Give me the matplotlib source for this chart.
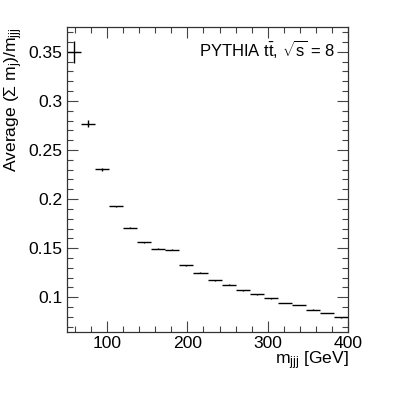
import numpy as np
import matplotlib
matplotlib.use("Agg")
import matplotlib.pyplot as plt
from matplotlib.ticker import MultipleLocator, FuncFormatter

plt.rcParams['font.family'] = ['Liberation Sans', 'DejaVu Sans']
plt.rcParams['mathtext.fontset'] = 'custom'
plt.rcParams['mathtext.rm'] = 'Liberation Sans'
plt.rcParams['mathtext.it'] = 'Liberation Sans'
plt.rcParams['mathtext.bf'] = 'Liberation Sans:bold'

# Data
bin_edges = np.linspace(50, 400, 21)
avg_ratio = [0.350, 0.277, 0.2305, 0.1926, 0.1707, 0.156, 0.1497, 0.1484,
             0.1328, 0.125, 0.1175, 0.1129, 0.1071, 0.103, 0.099, 0.0942,
             0.0922, 0.0875, 0.0841, 0.0797]
avg_err = [0.011, 0.004, 0.0015, 0.0008, 0.0006, 0.0005, 0.0005, 0.0005,
           0.0004, 0.0004, 0.0004, 0.0004, 0.0004, 0.0004, 0.0004, 0.0004,
           0.0004, 0.0004, 0.0004, 0.0004]
x_label = "m$_{jjj}$ [GeV]"
y_label = "Average ($\\Sigma$ m$_{j}$)/m$_{jjj}$"
annotation = "PYTHIA $t\\bar{t}$, $\\sqrt{s}$ = 8"

centers = 0.5 * (bin_edges[:-1] + bin_edges[1:])
halfw = 0.5 * np.diff(bin_edges)

fig = plt.figure(figsize=(4.15, 3.95), dpi=100)
ax = fig.add_axes([0.1607, 0.1603, 0.6786, 0.7706])

ax.errorbar(centers, avg_ratio, xerr=halfw, yerr=avg_err, fmt='none',
            ecolor='black', elinewidth=1.0, capsize=0)

ax.set_xlim(50, 400)
ax.set_ylim(0.065, 0.375)

ax.xaxis.set_major_locator(MultipleLocator(100))
ax.xaxis.set_minor_locator(MultipleLocator(20))
ax.yaxis.set_major_locator(MultipleLocator(0.05))
ax.yaxis.set_minor_locator(MultipleLocator(0.01))
ax.yaxis.set_major_formatter(FuncFormatter(lambda v, p: "%g" % round(v, 4)))

ax.tick_params(which='both', direction='in', top=True, right=True,
               labelsize=12.6, color='#444444', width=0.8)
ax.tick_params(which='major', length=8, pad=3)
ax.tick_params(which='minor', length=4)
for s in ax.spines.values():
    s.set_linewidth(0.9)
    s.set_color('#333333')

fig.text(0.8393, 0.087, x_label, ha='right', va='center', fontsize=12.6)
fig.text(0.034, 0.9309, y_label, ha='center', va='top', rotation=90, fontsize=12.6)

ax.text(0.953, 0.928, annotation, transform=ax.transAxes, ha='right', va='center',
        fontsize=12)

fig.savefig("out.png", dpi=100)
